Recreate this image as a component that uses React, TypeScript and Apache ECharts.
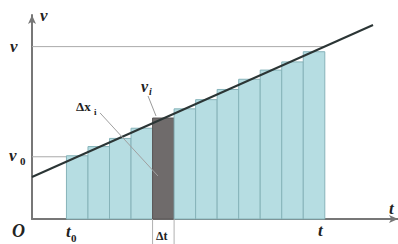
import React, { useEffect, useRef } from "react";
import * as echarts from "echarts";

// x in time units, y in velocity units
const barStarts = [1.6, 2.6, 3.6, 4.6, 5.6, 6.6, 7.6, 8.6, 9.6, 10.6, 11.6, 12.6];
const barHeights = [3.1, 3.55, 3.95, 4.45, 4.95, 5.4, 5.85, 6.35, 6.85, 7.3, 7.7, 8.2];
const barWidth = 1;
const highlightIndex = 4;
const lineX = [0, 15.84];
const lineY = [2.06, 9.51];
const vValue = 8.45;
const v0Value = 3.05;
const t0 = 1.6;
const tEnd = 13.6;
const viLeader = [[5.39, 6.03], [5.76, 5.05]];
const dxLeader = [[3.16, 5.2], [5.85, 2.11]];

export default function App() {
  const ref = useRef<HTMLDivElement>(null);
  useEffect(() => {
    const chart = echarts.init(ref.current!, null, { renderer: "svg" });
    const font = "'Liberation Serif', 'DejaVu Serif', serif";
    const txt = (text: string, x: number, y: number, size = 17, extra: any = {}) => ({
      type: "text",
      x,
      y,
      style: { text, fontFamily: font, fontStyle: "italic", fontWeight: "bold", fontSize: size, fill: "#222", ...extra },
    });
    chart.setOption({
      animation: false,
      grid: { left: 32, right: 0, top: 15, bottom: 25 },
      xAxis: {
        type: "value",
        min: 0,
        max: 17,
        axisLine: { lineStyle: { color: "#777777", width: 2 }, symbol: ["none", "arrow"], symbolSize: [6, 9] },
        axisTick: { show: false },
        axisLabel: { show: false },
        splitLine: { show: false },
      },
      yAxis: {
        type: "value",
        min: 0,
        max: 10,
        axisLine: { lineStyle: { color: "#777777", width: 2 }, symbol: ["none", "arrow"], symbolSize: [6, 9] },
        axisTick: { show: false },
        axisLabel: { show: false },
        splitLine: { show: false },
      },
      series: [
        {
          type: "line",
          data: [[0, vValue], [tEnd, vValue]],
          symbol: "none",
          lineStyle: { color: "#aaaaaa", width: 1 },
          z: 1,
        },
        {
          type: "line",
          data: [[0, v0Value], [t0, v0Value]],
          symbol: "none",
          lineStyle: { color: "#aaaaaa", width: 1 },
          z: 1,
        },
        {
          type: "custom",
          z: 2,
          renderItem: (params: any, api: any) => {
            const i = params.dataIndex;
            const x0 = api.value(0);
            const h = api.value(1);
            const p1 = api.coord([x0, h]);
            const p2 = api.coord([x0 + barWidth, 0]);
            return {
              type: "rect",
              shape: { x: p1[0], y: p1[1], width: p2[0] - p1[0], height: p2[1] - p1[1] },
              style: {
                fill: i === highlightIndex ? "#6f6b6b" : "#b6dde2",
                stroke: i === highlightIndex ? "#5a5656" : "#86b3b9",
                lineWidth: 1,
              },
            };
          },
          data: barStarts.map((s, i) => [s, barHeights[i]]),
        },
        {
          type: "custom",
          z: 3,
          renderItem: (params: any, api: any) => {
            const x0 = api.value(0);
            const a = api.coord([x0, 0]);
            return {
              type: "line",
              shape: { x1: a[0], y1: a[1], x2: a[0], y2: 244 },
              style: { stroke: "#b0b0b0", lineWidth: 1 },
            };
          },
          data: [[barStarts[highlightIndex]], [barStarts[highlightIndex] + barWidth]],
        },
        {
          type: "line",
          data: lineX.map((x, i) => [x, lineY[i]]),
          symbol: "none",
          lineStyle: { color: "#2b3535", width: 2 },
          z: 5,
        },
        {
          type: "line",
          data: viLeader,
          symbol: "none",
          lineStyle: { color: "#9a9a9a", width: 1 },
          z: 6,
        },
        {
          type: "line",
          data: dxLeader,
          symbol: "none",
          lineStyle: { color: "#a0a0a0", width: 1 },
          z: 6,
        },
      ],
      graphic: [
        txt("v", 40, 7),
        txt("v", 10, 38),
        txt("v", 9, 147),
        txt("0", 20, 155, 11, { fontStyle: "normal" }),
        txt("O", 12, 222, 18),
        txt("t", 66, 223),
        txt("0", 71, 232, 11, { fontStyle: "normal" }),
        txt("t", 318, 222),
        txt("t", 389, 200),
        txt("v", 141, 78, 16),
        txt("i", 149, 86, 10, { fontStyle: "italic" }),
        txt("Δx", 76, 100, 13, { fontStyle: "normal" }),
        txt("i", 94, 107, 9, { fontStyle: "normal" }),
        txt("Δt", 156, 230, 12, { fontStyle: "normal" }),
      ],
    });
    return () => chart.dispose();
  }, []);
  return <div ref={ref} style={{ position: "fixed", left: 0, top: 0, width: 398, height: 244, background: "#fff" }} />;
}
